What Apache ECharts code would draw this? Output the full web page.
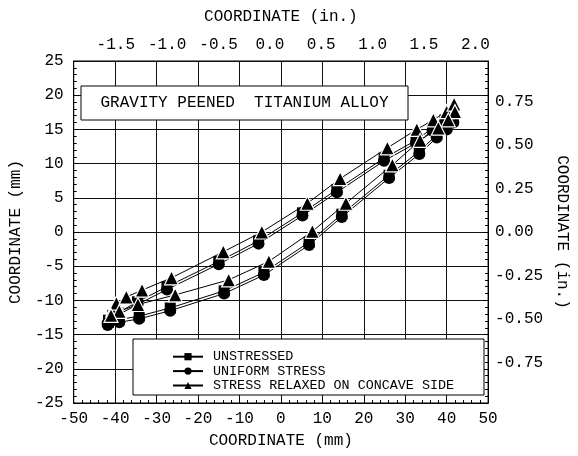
<!DOCTYPE html>
<html>
<head>
<meta charset="utf-8">
<script src="https://cdn.jsdelivr.net/npm/echarts@6/dist/echarts.min.js"></script>
<style>html,body{margin:0;padding:0;background:#fff;}#c{width:578px;height:456px;}</style>
</head>
<body>
<div id="c"></div>
<script>
const seriesNames = ['UNSTRESSED', 'UNIFORM STRESS', 'STRESS RELAXED ON CONCAVE SIDE'];
// [x mm, y mm] : upper branch left->right, then lower branch right->left
const unstressed = [
  [-41.6,-12.9],[-40.6,-12.2],[-39.3,-11.8],[-34.6,-10.2],[-27.5,-8.0],[-15.0,-4.3],[-5.4,-1.3],[5.2,2.8],[13.5,6.2],[24.9,10.8],[32.6,13.4],[36.6,15.2],[39.6,16.4],[41.2,17.3],
  [41.6,16.4],[40.0,15.4],[37.6,14.2],[33.4,11.8],[26.1,8.3],[14.7,2.6],[6.8,-1.5],[-4.1,-5.9],[-13.7,-8.6],[-26.7,-11.1],[-34.2,-12.3],[-39.0,-12.8],[-41.6,-13.2]
];
const uniformStress = [
  [-41.8,-13.3],[-40.8,-12.6],[-39.5,-12.2],[-34.6,-10.6],[-27.5,-8.4],[-15.0,-4.7],[-5.4,-1.7],[5.2,2.4],[13.5,5.8],[24.9,10.4],[32.6,13.0],[36.6,14.8],[39.6,16.0],[41.2,17.0],
  [41.6,16.0],[40.0,15.0],[37.6,13.8],[33.4,11.4],[26.1,7.9],[14.7,2.2],[6.8,-1.9],[-4.1,-6.3],[-13.7,-9.0],[-26.7,-11.5],[-34.2,-12.7],[-39.0,-13.2],[-41.8,-13.6]
];
const stressRelaxed = [
  [-40.6,-11.4],[-39.7,-10.4],[-37.3,-9.5],[-33.5,-8.5],[-26.4,-6.7],[-13.9,-2.9],[-4.6,0.0],[6.4,4.2],[14.3,7.8],[25.7,12.3],[32.8,15.0],[36.8,16.4],[40.0,17.6],[41.8,18.7],
  [42.0,17.6],[40.4,16.4],[38.0,15.2],[33.6,13.4],[26.9,9.8],[15.7,4.2],[7.6,0.1],[-2.9,-4.3],[-12.6,-7.0],[-25.5,-9.2],[-34.5,-10.6],[-39.0,-11.6],[-41.0,-12.2]
];
const topTickLabels = [-1.5, -1.0, -0.5, 0.0, 0.5, 1.0, 1.5, 2.0];
const rightTickLabels = [-0.75, -0.5, -0.25, 0.0, 0.25, 0.5, 0.75];
const titleText = 'GRAVITY PEENED  TITANIUM ALLOY';

const FONT = 'Liberation Mono';
const FS = 16;
const chart = echarts.init(document.getElementById('c'), null, {renderer: 'canvas'});
const lineCol = '#111';
const mk = (name, data, symbol, size, border, z) => ({
  name, type: 'line', data, symbol, symbolSize: size, xAxisIndex: 0, yAxisIndex: 0,
  lineStyle: {color: '#000', width: 1},
  itemStyle: {color: '#000', borderColor: '#fff', borderWidth: border},
  z, animation: false
});
chart.setOption({
  animation: false,
  grid: {left: 73, right: 82, top: 61, bottom: 53, show: true, borderColor: '#000', borderWidth: 1, backgroundColor: 'transparent'},
  xAxis: [
    {type: 'value', position: 'bottom', min: -50, max: 50, interval: 10,
     name: 'COORDINATE (mm)', nameLocation: 'middle', nameGap: 30,
     nameTextStyle: {fontFamily: FONT, fontSize: FS, color: '#000'},
     axisLine: {show: true, onZero: false, lineStyle: {color: '#000'}},
     axisTick: {show: true, inside: true, length: 5, lineStyle: {color: '#000'}},
     minorTick: {show: true, splitNumber: 5, length: 3, lineStyle: {color: '#000'}},
     splitLine: {show: true, lineStyle: {color: lineCol, width: 1}},
     axisLabel: {fontFamily: FONT, fontSize: FS, color: '#000', margin: 8}},
    {type: 'value', position: 'top', min: -1.910, max: 2.124,
     name: 'COORDINATE (in.)', nameLocation: 'middle', nameGap: 36,
     nameTextStyle: {fontFamily: FONT, fontSize: FS, color: '#000'},
     axisLine: {show: false, onZero: false}, axisTick: {show: false}, splitLine: {show: false},
     axisLabel: {customValues: topTickLabels, fontFamily: FONT, fontSize: FS, color: '#000', margin: 8,
                 formatter: v => v.toFixed(1)}}
  ],
  yAxis: [
    {type: 'value', position: 'left', min: -25, max: 25, interval: 5,
     name: 'COORDINATE (mm)', nameLocation: 'middle', nameGap: 45, nameRotate: 90,
     nameTextStyle: {fontFamily: FONT, fontSize: FS, color: '#000'},
     axisLine: {show: true, onZero: false, lineStyle: {color: '#000'}},
     axisTick: {show: true, inside: true, length: 5, lineStyle: {color: '#000'}},
     minorTick: {show: true, splitNumber: 5, length: 3, lineStyle: {color: '#000'}},
     splitLine: {show: true, lineStyle: {color: lineCol, width: 1}},
     axisLabel: {fontFamily: FONT, fontSize: FS, color: '#000', margin: 10}},
    {type: 'value', position: 'right', min: -25 / 25.4, max: 25 / 25.4,
     name: 'COORDINATE (in.)', nameLocation: 'middle', nameGap: 65, nameRotate: -90,
     nameTextStyle: {fontFamily: FONT, fontSize: FS, color: '#000'},
     axisLine: {show: false, onZero: false}, axisTick: {show: false}, splitLine: {show: false},
     axisLabel: {customValues: rightTickLabels, fontFamily: FONT, fontSize: FS, color: '#000', margin: 7,
                 formatter: v => v.toFixed(2)}},
    {type: 'value', position: 'right', min: -25, max: 25, interval: 5,
     axisLine: {show: true, onZero: false, lineStyle: {color: '#000'}},
     axisTick: {show: true, inside: true, length: 5, lineStyle: {color: '#000'}},
     minorTick: {show: true, splitNumber: 5, length: 3, lineStyle: {color: '#000'}},
     splitLine: {show: false}, axisLabel: {show: false}}
  ],
  legend: {
    orient: 'vertical', left: 167, top: 345, z: 10,
    itemWidth: 30, itemHeight: 9, itemGap: 1,
    textStyle: {fontFamily: FONT, fontSize: 13.4, color: '#000', lineHeight: 13.4, padding: [0, 0, 0, 5]},
    itemStyle: {borderWidth: 0},
    data: seriesNames
  },
  graphic: [
    {type: 'rect', z: 5, shape: {x: 81, y: 86, width: 327, height: 34}, style: {fill: '#fff', stroke: '#000', lineWidth: 1}},
    {type: 'text', z: 6, x: 244.5, y: 103, style: {text: titleText, fontFamily: FONT, fontSize: FS, fill: '#000', align: 'center', verticalAlign: 'middle'}},
    {type: 'rect', z: 5, shape: {x: 133, y: 339, width: 351, height: 56}, style: {fill: '#fff', stroke: '#000', lineWidth: 1}}
  ],
  series: [
    mk(seriesNames[0], unstressed, 'rect', 11, 0, 3),
    mk(seriesNames[1], uniformStress, 'circle', 12, 0, 4),
    mk(seriesNames[2], stressRelaxed, 'triangle', 14, 1.2, 5)
  ]
});
</script>
</body>
</html>
